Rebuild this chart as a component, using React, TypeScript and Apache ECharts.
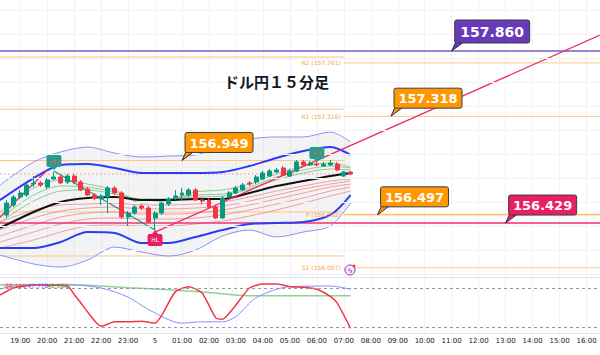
import React, { useEffect, useRef } from 'react';
import * as echarts from 'echarts';

// ---- time axis: 15-minute slots from 18:15 to 16:30 ----
const firstSlotMinutes = 18 * 60 + 15;
const slotCount = 90;
const dayChangeLabel = '5';
const timeSlots: string[] = [];
for (let i = 0; i < slotCount; i++) {
  const m = (firstSlotMinutes + i * 15) % (24 * 60);
  timeSlots.push(String(Math.floor(m / 60)).padStart(2, '0') + ':' + String(m % 60).padStart(2, '0'));
}

// ---- candles (18:30 .. 07:15) ----
const candleStartSlot = 1;
const opens = [156.496, 156.579, 156.645, 156.662, 156.753, 156.762, 156.728, 156.795, 156.812, 156.770, 156.820, 156.770, 156.712, 156.662, 156.629, 156.645, 156.720, 156.679, 156.479, 156.512, 156.570, 156.554, 156.471, 156.512, 156.587, 156.637, 156.662, 156.662, 156.704, 156.620, 156.620, 156.562, 156.471, 156.645, 156.679, 156.704, 156.762, 156.770, 156.795, 156.820, 156.853, 156.887, 156.820, 156.862, 156.937, 156.912, 156.920, 156.903, 156.912, 156.920, 156.820, 156.853];
const closes = [156.595, 156.645, 156.679, 156.745, 156.762, 156.745, 156.787, 156.812, 156.762, 156.820, 156.770, 156.704, 156.662, 156.637, 156.654, 156.720, 156.679, 156.479, 156.512, 156.562, 156.554, 156.437, 156.512, 156.595, 156.629, 156.654, 156.679, 156.704, 156.620, 156.612, 156.562, 156.471, 156.637, 156.679, 156.720, 156.745, 156.753, 156.812, 156.845, 156.862, 156.870, 156.828, 156.862, 156.937, 156.912, 156.928, 156.912, 156.920, 156.928, 156.870, 156.853, 156.837];
const lows = [156.471, 156.562, 156.629, 156.645, 156.728, 156.728, 156.712, 156.787, 156.753, 156.753, 156.753, 156.695, 156.654, 156.620, 156.579, 156.512, 156.662, 156.462, 156.404, 156.496, 156.537, 156.429, 156.371, 156.496, 156.570, 156.620, 156.620, 156.645, 156.612, 156.587, 156.554, 156.462, 156.462, 156.637, 156.670, 156.695, 156.737, 156.753, 156.787, 156.812, 156.845, 156.820, 156.812, 156.853, 156.903, 156.903, 156.903, 156.895, 156.903, 156.862, 156.812, 156.828];
const highs = [156.620, 156.662, 156.704, 156.770, 156.820, 156.778, 156.803, 156.853, 156.828, 156.837, 156.837, 156.787, 156.728, 156.679, 156.670, 156.737, 156.737, 156.695, 156.529, 156.579, 156.587, 156.570, 156.529, 156.604, 156.645, 156.704, 156.720, 156.720, 156.720, 156.645, 156.637, 156.579, 156.654, 156.695, 156.737, 156.762, 156.778, 156.828, 156.862, 156.878, 156.887, 156.903, 156.878, 156.953, 156.953, 156.945, 156.953, 156.937, 156.953, 156.937, 156.862, 156.862];

// ---- indicator lines (sampled slots) ----
const bandSlots = [0, 5, 9, 13, 17, 21, 25, 29, 33, 37, 41, 45, 49, 52];
const bbOuterUpper = [156.745, 156.937, 157.020, 157.061, 157.011, 156.978, 156.986, 156.995, 157.078, 157.128, 157.145, 157.145, 157.186, 157.103];
const bbOuterLower = [156.163, 156.088, 156.063, 156.121, 156.229, 156.188, 156.154, 156.204, 156.321, 156.371, 156.313, 156.354, 156.404, 156.595];
const bbUpper = [156.620, 156.803, 156.912, 156.920, 156.887, 156.845, 156.845, 156.845, 156.853, 156.903, 156.970, 157.028, 157.061, 156.995];
const bbLower = [156.221, 156.221, 156.271, 156.354, 156.346, 156.263, 156.263, 156.313, 156.371, 156.421, 156.429, 156.437, 156.496, 156.662];
const basisLine = [156.388, 156.521, 156.604, 156.637, 156.645, 156.620, 156.620, 156.629, 156.629, 156.679, 156.737, 156.778, 156.820, 156.845];
const greenRibbonA = [156.521, 156.720, 156.787, 156.753, 156.704, 156.595, 156.620, 156.687, 156.704, 156.753, 156.837, 156.903, 156.928, 156.895];
const greenRibbonB = [156.471, 156.662, 156.737, 156.728, 156.687, 156.620, 156.629, 156.662, 156.670, 156.728, 156.812, 156.870, 156.903, 156.887];
const greenRibbonC = [156.437, 156.612, 156.695, 156.704, 156.670, 156.629, 156.629, 156.645, 156.654, 156.712, 156.787, 156.845, 156.878, 156.870];
const redRibbonA = [156.437, 156.537, 156.579, 156.587, 156.595, 156.579, 156.579, 156.587, 156.604, 156.645, 156.695, 156.737, 156.778, 156.795];
const redRibbonB = [156.371, 156.471, 156.529, 156.554, 156.562, 156.546, 156.546, 156.554, 156.570, 156.612, 156.662, 156.712, 156.753, 156.778];
const redRibbonC = [156.321, 156.412, 156.479, 156.512, 156.521, 156.504, 156.504, 156.512, 156.537, 156.579, 156.629, 156.679, 156.728, 156.753];
const redRibbonD = [156.271, 156.354, 156.421, 156.462, 156.471, 156.462, 156.462, 156.471, 156.496, 156.537, 156.587, 156.637, 156.695, 156.728];
const redRibbonE = [156.221, 156.288, 156.354, 156.404, 156.412, 156.404, 156.404, 156.421, 156.446, 156.487, 156.537, 156.595, 156.654, 156.695];

// ---- levels ----
const gridPrices = [158.2, 158.0, 157.8, 157.6, 157.4, 157.2, 157.0, 156.8, 156.6, 156.4, 156.2, 156.0];
const prevLevels = [157.810, 157.377, 156.949, 156.521, 156.155];
const pivotNames = ['R2', 'R1', 'P', 'S1'];
const pivotValues = [157.761, 157.316, 156.502, 156.057];
const pivotStartSlot = 51;
const lastSlot = 89;
const resistanceLine = 157.860;
const supportLine = 156.429;
const orangeLevel = 156.497;
const lastPrice = 156.837;
const lastCandleSlot = 52;

const calloutValues = [157.860, 157.318, 156.949, 156.497, 156.429];
const calloutSlots = [67, 58, 27, 56, 75];
const calloutColors = ['#673ab7', '#ff9800', '#ff9800', '#ff9800', '#e91e63'];

const trendSlots = [23, 89];
const trendValues = [156.354, 157.992];
const earlyTrendSlots = [0, 7];
const earlyTrendValues = [156.479, 156.870];
const zigzagSlots = [8, 23];
const zigzagValues = [156.862, 156.371];

const swingSlots = [8, 23, 47];
const swingValues = [156.870, 156.371, 156.937];
const swingTexts = ['HH', 'HL', 'HH'];
const swingIsHigh = [true, false, true];

// ---- oscillator ----
const oscRedSlots = [0, 2, 5, 10, 11, 12, 13, 15, 17, 19, 21, 23, 24, 26, 28, 30, 32, 33, 35, 37, 39, 41, 43, 45, 47, 49, 50, 52];
const oscRedValues = [-31, -20, -15, -17, -30, -43, -57, -79, -72, -72, -71, -74, -62, -26, -18, -28, -66, -68, -46, -20, -14, -14, -18, -19, -22, -33, -43, -82];
const oscBlueSlots = [0, 2, 10, 15, 19, 22, 27, 30, 33, 35, 38, 43, 49, 52];
const oscBlueValues = [-22, -17, -15, -20, -34, -53, -74, -72, -72, -64, -35, -18, -17, -22];
const oscGreenSlots = [0, 10, 20, 30, 37, 52];
const oscGreenValues = [-15, -15, -20, -26, -32, -32];
const oscLevels = [-20, -80];
const oscLegendTexts = ['-88.111', '-47.778', '48.066'];
const oscLegendColors = ['#f23645', '#5b5bff', '#43a047'];

const title = 'ドル円１５分足';

const pairs = (s: number[], v: number[]) => s.map((k, i) => [k, v[i]]);

function lineSeries(name: string, data: number[][], color: string, width: number, z = 3, extra: any = {}) {
  return {
    name,
    type: 'line',
    xAxisIndex: 0,
    yAxisIndex: 0,
    data,
    symbol: 'none',
    silent: true,
    z,
    lineStyle: { color, width },
    ...extra,
  };
}

export default function App() {
  const ref = useRef<HTMLDivElement>(null);
  useEffect(() => {
    if (!ref.current) return;
    const chart = echarts.init(ref.current, null, { renderer: 'svg' });
    const isHour = (_: number, v: string) => v.endsWith(':00');
    const series: any[] = [];

    // price grid lines
    series.push({
      type: 'line', xAxisIndex: 0, yAxisIndex: 0, data: [[0, gridPrices[0]]], symbol: 'none', z: 0, silent: true,
      lineStyle: { width: 0 },
      markLine: {
        silent: true, symbol: ['none', 'none'], label: { show: false },
        lineStyle: { color: '#f0f3fa', type: 'solid', width: 1 },
        data: gridPrices.map((p) => ({ yAxis: p })),
      },
    });

    // band fill
    series.push({
      type: 'custom', xAxisIndex: 0, yAxisIndex: 0, z: 1, silent: true,
      data: [[bandSlots[0], bbOuterUpper[0]]],
      renderItem: (_p: any, api: any) => {
        const top = bandSlots.map((k, i) => api.coord([k, bbOuterUpper[i]]));
        const bot = bandSlots.map((k, i) => api.coord([k, bbOuterLower[i]])).reverse();
        return { type: 'polygon', shape: { points: top.concat(bot) }, style: { fill: 'rgba(120,123,134,0.09)' } };
      },
    });

    // levels
    prevLevels.forEach((p, i) => series.push(lineSeries('prev' + i, [[0, p], [pivotStartSlot, p]], '#ffc680', 1, 2)));
    pivotValues.forEach((p, i) => series.push(lineSeries('pv' + i, [[pivotStartSlot, p], [lastSlot, p]], '#ffc680', 1, 2)));
    series.push(lineSeries('orange', [[pivotStartSlot, orangeLevel], [lastSlot, orangeLevel]], '#ffb74d', 1, 2));
    series.push(lineSeries('resist', [[0, resistanceLine], [lastSlot, resistanceLine]], '#9c84d8', 2, 2));
    series.push(lineSeries('support', [[0, supportLine], [lastSlot, supportLine]], '#f06292', 2, 2));
    series.push(lineSeries('last', [[0, lastPrice], [lastCandleSlot, lastPrice]], '#f7a3aa', 1, 2, { lineStyle: { color: '#f7a3aa', width: 1, type: [2, 2] } }));

    // ribbons & bands
    [redRibbonA, redRibbonB, redRibbonC, redRibbonD, redRibbonE].forEach((r, i) =>
      series.push(lineSeries('red' + i, pairs(bandSlots, r), 'rgba(242,54,69,0.45)', 1, 3, { smooth: 0.3 })));
    [greenRibbonA, greenRibbonB, greenRibbonC].forEach((r, i) =>
      series.push(lineSeries('green' + i, pairs(bandSlots, r), 'rgba(76,175,80,0.6)', 1, 3, { smooth: 0.3 })));
    series.push(lineSeries('outerU', pairs(bandSlots, bbOuterUpper), '#8f8cff', 1, 3, { smooth: 0.3 }));
    series.push(lineSeries('outerL', pairs(bandSlots, bbOuterLower), '#8f8cff', 1, 3, { smooth: 0.3 }));
    series.push(lineSeries('bbU', pairs(bandSlots, bbUpper), '#2b3cf5', 2, 3, { smooth: 0.3 }));
    series.push(lineSeries('bbL', pairs(bandSlots, bbLower), '#2b3cf5', 2, 3, { smooth: 0.3 }));
    series.push(lineSeries('basis', pairs(bandSlots, basisLine), '#111111', 2, 3, { smooth: 0.3 }));

    // trend lines
    series.push(lineSeries('trend', pairs(trendSlots, trendValues), '#ec2a6a', 1.3, 4));
    series.push(lineSeries('trend0', pairs(earlyTrendSlots, earlyTrendValues), '#ec2a6a', 1.3, 4));
    series.push(lineSeries('zig', pairs(zigzagSlots, zigzagValues), '#1f9a80', 1.3, 4));

    // candles
    series.push({
      type: 'candlestick', xAxisIndex: 0, yAxisIndex: 0, z: 5, silent: true,
      barWidth: '66%',
      dimensions: ['slot', 'open', 'close', 'lowest', 'highest'],
      encode: { x: 0, y: [1, 2, 3, 4] },
      data: opens.map((o, i) => [candleStartSlot + i, o, closes[i], lows[i], highs[i]]),
      itemStyle: { color: '#089981', color0: '#f23645', borderColor: '#089981', borderColor0: '#f23645', borderWidth: 1 },
    });

    // swing markers
    series.push({
      type: 'custom', xAxisIndex: 0, yAxisIndex: 0, z: 9, silent: true,
      data: swingSlots.map((k, i) => [k, swingValues[i]]),
      renderItem: (p: any, api: any) => {
        const i = p.dataIndex;
        const [x, y] = api.coord([swingSlots[i], swingValues[i]]);
        const hi = swingIsHigh[i];
        const w = 15, h = 12;
        const by = hi ? y - 3 - h : y + 4;
        const col = hi ? '#22a08a' : '#e91e63';
        const tri = hi ? [[x - 3, by + h], [x + 3, by + h], [x, y]] : [[x - 3, by], [x + 3, by], [x, y]];
        return {
          type: 'group', children: [
            { type: 'polygon', shape: { points: tri }, style: { fill: col } },
            { type: 'rect', shape: { x: x - w / 2, y: by, width: w, height: h, r: 2 }, style: { fill: col } },
            { type: 'text', style: { text: swingTexts[i], x, y: by + h / 2, align: 'center', verticalAlign: 'middle', fontSize: 6, fill: hi ? '#e64a5a' : '#ffffff', fontFamily: 'DejaVu Sans' } },
          ],
        };
      },
    });

    // pivot labels
    series.push({
      type: 'custom', xAxisIndex: 0, yAxisIndex: 0, z: 8, silent: true,
      data: pivotValues.map((v) => [pivotStartSlot, v]),
      renderItem: (p: any, api: any) => {
        const i = p.dataIndex;
        const [x, y] = api.coord([pivotStartSlot, pivotValues[i]]);
        return { type: 'text', style: { text: `${pivotNames[i]} (${pivotValues[i].toFixed(3)})`, x: x - 3, y, align: 'right', verticalAlign: 'middle', fontSize: 6, fill: '#f5a442', fontFamily: 'DejaVu Sans' } };
      },
    });

    // callouts
    series.push({
      type: 'custom', xAxisIndex: 0, yAxisIndex: 0, z: 10, silent: true,
      data: calloutSlots.map((k, i) => [k, calloutValues[i]]),
      renderItem: (p: any, api: any) => {
        const i = p.dataIndex;
        const [x, y] = api.coord([calloutSlots[i], calloutValues[i]]);
        const big = i === 0;
        const w = big ? 75 : 68, h = big ? 23 : 20;
        const bx = x + 3, by = y - 8 - h;
        const col = calloutColors[i];
        return {
          type: 'group', children: [
            { type: 'polygon', shape: { points: [[x, y], [bx + 1, by + h - 1], [bx + 9, by + h - 1]] }, style: { fill: col, stroke: '#2a2e39', lineWidth: 1 } },
            { type: 'rect', shape: { x: bx, y: by, width: w, height: h, r: 2 }, style: { fill: col, stroke: '#3a3e49', lineWidth: 1 } },
            { type: 'text', style: { text: calloutValues[i].toFixed(3), x: bx + w / 2, y: by + h / 2 + 0.5, align: 'center', verticalAlign: 'middle', fill: '#ffffff', fontSize: big ? 14 : 13, fontWeight: 'bold', fontFamily: 'DejaVu Sans' } },
          ],
        };
      },
    });

    // oscillator
    series.push({
      type: 'line', xAxisIndex: 1, yAxisIndex: 1, data: pairs(oscGreenSlots, oscGreenValues), symbol: 'none', silent: true, smooth: 0.3,
      lineStyle: { color: 'rgba(76,175,80,0.6)', width: 1.5 },
    });
    series.push({
      type: 'line', xAxisIndex: 1, yAxisIndex: 1, data: pairs(oscBlueSlots, oscBlueValues), symbol: 'none', silent: true, smooth: 0.3,
      lineStyle: { color: '#8c8cff', width: 1 },
    });
    series.push({
      type: 'line', xAxisIndex: 1, yAxisIndex: 1, data: pairs(oscRedSlots, oscRedValues), symbol: 'none', silent: true, smooth: 0.2,
      lineStyle: { color: '#f23645', width: 1.5 },
      markLine: {
        silent: true, symbol: ['none', 'none'], label: { show: false },
        lineStyle: { color: '#9598a1', type: [3, 3], width: 1 },
        data: oscLevels.map((v) => ({ yAxis: v })),
      },
    });

    const option: any = {
      animation: false,
      backgroundColor: '#ffffff',
      textStyle: { fontFamily: 'DejaVu Sans' },
      grid: [
        { left: -2.38, right: -1.02, top: 0, height: 277 },
        { left: -2.38, right: -1.02, top: 279, height: 54 },
      ],
      xAxis: [
        {
          type: 'category', gridIndex: 0, data: timeSlots, boundaryGap: false,
          axisLabel: { show: false }, axisTick: { show: false },
          axisLine: { show: true, lineStyle: { color: '#e0e3eb' } },
          splitLine: { show: true, interval: isHour, lineStyle: { color: '#f0f3fa' } },
        },
        {
          type: 'category', gridIndex: 1, data: timeSlots, boundaryGap: false,
          axisTick: { show: false },
          axisLine: { show: true, lineStyle: { color: '#e0e3eb' } },
          splitLine: { show: true, interval: isHour, lineStyle: { color: '#f0f3fa' } },
          axisLabel: {
            show: true, interval: isHour, fontSize: 7, color: '#131722', margin: 4,
            formatter: (v: string) => (v === '00:00' ? dayChangeLabel : v),
          },
        },
      ],
      yAxis: [
        { type: 'value', gridIndex: 0, min: 155.98, max: 158.2843, show: false, splitLine: { show: false } },
        { type: 'value', gridIndex: 1, min: -89.2, max: -6.2, show: false, splitLine: { show: false } },
      ],
      graphic: [
        { type: 'text', left: 224, top: 74, z: 20, style: { text: title, fontSize: 15, fontWeight: 'bold', fontFamily: '"Noto Sans CJK JP"', fill: '#131722' } },
        { type: 'circle', shape: { cx: 350, cy: 270, r: 5 }, style: { fill: '#f6ecfa', stroke: '#9c27b0', lineWidth: 1 }, z: 20 },
        { type: 'text', x: 350, y: 270, z: 21, style: { text: 'ϟ', fontSize: 8, fill: '#9c27b0', align: 'center', verticalAlign: 'middle' } },
        { type: 'circle', shape: { cx: 354, cy: 266, r: 1.5 }, style: { fill: '#f23645' }, z: 22 },
        ...oscLegendTexts.map((t, i) => ({
          type: 'text', x: 3 + i * 22, y: 285, z: 20,
          style: { text: t, fontSize: 6, fill: oscLegendColors[i], verticalAlign: 'middle', fontFamily: 'DejaVu Sans' },
        })),
      ],
      series,
    };
    chart.setOption(option);
    return () => chart.dispose();
  }, []);
  return <div ref={ref} style={{ position: 'fixed', left: 0, top: 0, width: 600, height: 355, background: '#fff' }} />;
}
